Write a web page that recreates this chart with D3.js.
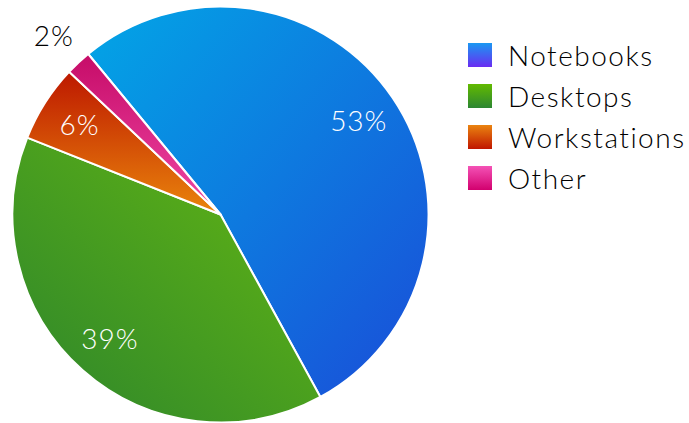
<!DOCTYPE html>
<html>
<head>
<meta charset="utf-8">
<script src="https://cdn.jsdelivr.net/npm/d3@7"></script>
<style>
  html, body { margin: 0; padding: 0; background: #fff; }
  svg { display: block; }
  text { font-family: "Lato", "Open Sans", sans-serif; font-weight: 300; }
</style>
</head>
<body>
<svg id="chart" width="689" height="423"></svg>
<script>
// Market share by product category
const categories = ["Notebooks", "Desktops", "Workstations", "Other"];
const shares = [53, 39, 6, 2];

// slice gradients: [x1, y1, x2, y2, fromColor, toColor]
const sliceFills = [
  [0, 0, 1, 1, "#02a6e6", "#1a4cd8"],
  [1, 0, 0, 1, "#66b812", "#2c852c"],
  [0, 0, 0, 1, "#bd1800", "#ea850c"],
  [0, 0, 0, 1, "#c60c68", "#f048a6"]
];
const swatchFills = [
  ["#1a98f2", "#6a2cf2"],
  ["#62ba00", "#2c8632"],
  ["#ea8410", "#c01600"],
  ["#f452b6", "#d2006e"]
];

const svg = d3.select("#chart");
const cx = 220.5, cy = 214.5, radius = 208;
const defs = svg.append("defs");

sliceFills.forEach((g, i) => {
  const lg = defs.append("linearGradient").attr("id", "slice" + i)
    .attr("x1", g[0]).attr("y1", g[1]).attr("x2", g[2]).attr("y2", g[3]);
  lg.append("stop").attr("offset", 0).attr("stop-color", g[4]);
  lg.append("stop").attr("offset", 1).attr("stop-color", g[5]);
});
swatchFills.forEach((g, i) => {
  const lg = defs.append("linearGradient").attr("id", "swatch" + i)
    .attr("x1", 0).attr("y1", 0).attr("x2", 0).attr("y2", 1);
  lg.append("stop").attr("offset", 0).attr("stop-color", g[0]);
  lg.append("stop").attr("offset", 1).attr("stop-color", g[1]);
});

const startDeg = -39.5;
const pie = d3.pie().sort(null).value(d => d)
  .startAngle(startDeg * Math.PI / 180)
  .endAngle((startDeg + 360) * Math.PI / 180);
const arcs = pie(shares);
const arc = d3.arc().innerRadius(0).outerRadius(radius);
const labelArc = d3.arc().innerRadius(167).outerRadius(167);
const outerArc = d3.arc().innerRadius(244).outerRadius(244);

const g = svg.append("g").attr("transform", `translate(${cx},${cy})`);
g.selectAll("path.slice").data(arcs).enter().append("path")
  .attr("class", "slice")
  .attr("d", arc)
  .attr("fill", (d, i) => `url(#slice${i})`)
  .attr("stroke", "#fff")
  .attr("stroke-width", 2)
  .attr("stroke-linejoin", "round");

g.selectAll("text.pct").data(arcs).enter().append("text")
  .attr("class", "pct")
  .attr("transform", d => {
    const inside = d.data >= 5;
    const c = (inside ? labelArc : outerArc).centroid(d);
    return `translate(${c[0]},${c[1]})`;
  })
  .attr("text-anchor", "middle")
  .attr("dy", "0.35em")
  .attr("font-size", 28)
  .attr("letter-spacing", 1)
  .attr("fill", d => d.data >= 5 ? "#fff" : "#000")
  .text(d => d.data + "%");

const legend = svg.append("g").attr("transform", "translate(468,43)");
const rows = legend.selectAll("g").data(categories).enter().append("g")
  .attr("transform", (d, i) => `translate(0,${i * 41})`);
rows.append("rect")
  .attr("width", 24).attr("height", 24)
  .attr("fill", (d, i) => `url(#swatch${i})`);
rows.append("text")
  .attr("x", 40).attr("y", 23)
  .attr("font-size", 28)
  .attr("letter-spacing", 1.5)
  .attr("fill", "#000")
  .text(d => d);
</script>
</body>
</html>
